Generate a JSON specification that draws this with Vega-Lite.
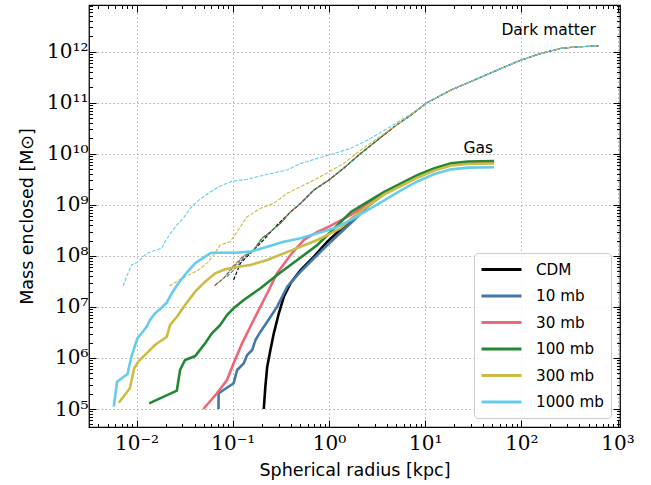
{
  "$schema": "https://vega.github.io/schema/vega-lite/v6.json",
  "width": 531,
  "height": 422,
  "autosize": "none",
  "padding": {"left": 89, "top": 5, "right": 31, "bottom": 58},
  "background": "#ffffff",
  "config": {
    "view": {"stroke": "#000000", "strokeWidth": 1.25},
    "axis": {"domain": false, "tickColor": "#000000", "tickWidth": 1, "labelColor": "#000000", "titleColor": "#000000"}
  },
  "resolve": {"axis": {"x": "independent", "y": "independent"}},
  "datasets": {
    "curves": [
      {"s":"CDM","k":"dm","r":0.102,"m":3.37e7},{"s":"CDM","k":"dm","r":0.12,"m":7.16e7},{"s":"CDM","k":"dm","r":0.152,"m":1.12e8},{"s":"CDM","k":"dm","r":0.194,"m":1.77e8},{"s":"CDM","k":"dm","r":0.289,"m":4.03e8},{"s":"CDM","k":"dm","r":0.398,"m":7.24e8},{"s":"CDM","k":"dm","r":0.507,"m":1.07e9},{"s":"CDM","k":"dm","r":0.697,"m":1.95e9},{"s":"CDM","k":"dm","r":1.0,"m":3.07e9},{"s":"CDM","k":"dm","r":1.43,"m":5.27e9},{"s":"CDM","k":"dm","r":2.14,"m":1.02e10},{"s":"CDM","k":"dm","r":3.2,"m":1.86e10},{"s":"CDM","k":"dm","r":4.77,"m":3.4e10},{"s":"CDM","k":"dm","r":7.13,"m":5.75e10},{"s":"CDM","k":"dm","r":10.2,"m":9.75e10},{"s":"CDM","k":"dm","r":18.6,"m":1.78e11},{"s":"CDM","k":"dm","r":32.6,"m":2.79e11},{"s":"CDM","k":"dm","r":62,"m":4.73e11},{"s":"CDM","k":"dm","r":100,"m":6.89e11},{"s":"CDM","k":"dm","r":162,"m":9.31e11},{"s":"CDM","k":"dm","r":262,"m":1.17e12},{"s":"CDM","k":"dm","r":392,"m":1.25e12},{"s":"CDM","k":"dm","r":634,"m":1.29e12},

      {"s":"10 mb","k":"dm","r":0.087,"m":3.91e7},{"s":"10 mb","k":"dm","r":0.102,"m":5.28e7},{"s":"10 mb","k":"dm","r":0.13,"m":9.08e7},{"s":"10 mb","k":"dm","r":0.165,"m":1.3e8},{"s":"10 mb","k":"dm","r":0.202,"m":2.21e8},{"s":"10 mb","k":"dm","r":0.236,"m":2.77e8},{"s":"10 mb","k":"dm","r":0.313,"m":4.35e8},{"s":"10 mb","k":"dm","r":0.398,"m":7.24e8},{"s":"10 mb","k":"dm","r":0.507,"m":1.07e9},{"s":"10 mb","k":"dm","r":0.697,"m":1.95e9},{"s":"10 mb","k":"dm","r":1.0,"m":3.07e9},{"s":"10 mb","k":"dm","r":1.43,"m":5.27e9},{"s":"10 mb","k":"dm","r":2.14,"m":1.02e10},{"s":"10 mb","k":"dm","r":3.2,"m":1.86e10},{"s":"10 mb","k":"dm","r":4.77,"m":3.4e10},{"s":"10 mb","k":"dm","r":7.13,"m":5.75e10},{"s":"10 mb","k":"dm","r":10.2,"m":9.75e10},{"s":"10 mb","k":"dm","r":18.6,"m":1.78e11},{"s":"10 mb","k":"dm","r":32.6,"m":2.79e11},{"s":"10 mb","k":"dm","r":62,"m":4.73e11},{"s":"10 mb","k":"dm","r":100,"m":6.89e11},{"s":"10 mb","k":"dm","r":162,"m":9.31e11},{"s":"10 mb","k":"dm","r":262,"m":1.17e12},{"s":"10 mb","k":"dm","r":392,"m":1.25e12},{"s":"10 mb","k":"dm","r":634,"m":1.29e12},

      {"s":"30 mb","k":"dm","r":0.064,"m":2.55e7},{"s":"30 mb","k":"dm","r":0.081,"m":3.7e7},{"s":"30 mb","k":"dm","r":0.1,"m":6.3e7},{"s":"30 mb","k":"dm","r":0.128,"m":9.9e7},{"s":"30 mb","k":"dm","r":0.165,"m":1.33e8},{"s":"30 mb","k":"dm","r":0.2,"m":2.25e8},{"s":"30 mb","k":"dm","r":0.236,"m":2.8e8},{"s":"30 mb","k":"dm","r":0.313,"m":4.4e8},{"s":"30 mb","k":"dm","r":0.398,"m":7.3e8},{"s":"30 mb","k":"dm","r":0.507,"m":1.07e9},{"s":"30 mb","k":"dm","r":0.697,"m":1.95e9},{"s":"30 mb","k":"dm","r":1.0,"m":3.07e9},{"s":"30 mb","k":"dm","r":1.43,"m":5.27e9},{"s":"30 mb","k":"dm","r":2.14,"m":1.02e10},{"s":"30 mb","k":"dm","r":3.2,"m":1.86e10},{"s":"30 mb","k":"dm","r":4.77,"m":3.4e10},{"s":"30 mb","k":"dm","r":7.13,"m":5.75e10},{"s":"30 mb","k":"dm","r":10.2,"m":9.75e10},{"s":"30 mb","k":"dm","r":18.6,"m":1.78e11},{"s":"30 mb","k":"dm","r":32.6,"m":2.79e11},{"s":"30 mb","k":"dm","r":62,"m":4.73e11},{"s":"30 mb","k":"dm","r":100,"m":6.89e11},{"s":"30 mb","k":"dm","r":162,"m":9.31e11},{"s":"30 mb","k":"dm","r":262,"m":1.17e12},{"s":"30 mb","k":"dm","r":392,"m":1.25e12},{"s":"30 mb","k":"dm","r":634,"m":1.29e12},

      {"s":"100 mb","k":"dm","r":0.0657,"m":2.69e7},{"s":"100 mb","k":"dm","r":0.0802,"m":3.64e7},{"s":"100 mb","k":"dm","r":0.102,"m":6.14e7},{"s":"100 mb","k":"dm","r":0.13,"m":9.64e7},{"s":"100 mb","k":"dm","r":0.165,"m":1.3e8},{"s":"100 mb","k":"dm","r":0.202,"m":2.21e8},{"s":"100 mb","k":"dm","r":0.236,"m":2.77e8},{"s":"100 mb","k":"dm","r":0.313,"m":4.35e8},{"s":"100 mb","k":"dm","r":0.398,"m":7.24e8},{"s":"100 mb","k":"dm","r":0.507,"m":1.07e9},{"s":"100 mb","k":"dm","r":0.697,"m":1.95e9},{"s":"100 mb","k":"dm","r":1.0,"m":3.07e9},{"s":"100 mb","k":"dm","r":1.43,"m":5.27e9},{"s":"100 mb","k":"dm","r":2.14,"m":1.02e10},{"s":"100 mb","k":"dm","r":3.2,"m":1.86e10},{"s":"100 mb","k":"dm","r":4.77,"m":3.4e10},{"s":"100 mb","k":"dm","r":7.13,"m":5.75e10},{"s":"100 mb","k":"dm","r":10.2,"m":9.75e10},{"s":"100 mb","k":"dm","r":18.6,"m":1.78e11},{"s":"100 mb","k":"dm","r":32.6,"m":2.79e11},{"s":"100 mb","k":"dm","r":62,"m":4.73e11},{"s":"100 mb","k":"dm","r":100,"m":6.89e11},{"s":"100 mb","k":"dm","r":162,"m":9.31e11},{"s":"100 mb","k":"dm","r":262,"m":1.17e12},{"s":"100 mb","k":"dm","r":392,"m":1.25e12},{"s":"100 mb","k":"dm","r":634,"m":1.29e12},

      {"s":"300 mb","k":"dm","r":0.0219,"m":2.57e7},{"s":"300 mb","k":"dm","r":0.0295,"m":3.64e7},{"s":"300 mb","k":"dm","r":0.044,"m":5.28e7},{"s":"300 mb","k":"dm","r":0.0559,"m":7.69e7},{"s":"300 mb","k":"dm","r":0.063,"m":1.04e8},{"s":"300 mb","k":"dm","r":0.0741,"m":1.63e8},{"s":"300 mb","k":"dm","r":0.0942,"m":1.9e8},{"s":"300 mb","k":"dm","r":0.111,"m":2.98e8},{"s":"300 mb","k":"dm","r":0.141,"m":5.86e8},{"s":"300 mb","k":"dm","r":0.194,"m":8.55e8},{"s":"300 mb","k":"dm","r":0.267,"m":1.07e9},{"s":"300 mb","k":"dm","r":0.368,"m":1.68e9},{"s":"300 mb","k":"dm","r":0.507,"m":2.26e9},{"s":"300 mb","k":"dm","r":0.757,"m":3.31e9},{"s":"300 mb","k":"dm","r":1.0,"m":4.46e9},{"s":"300 mb","k":"dm","r":1.43,"m":6.52e9},{"s":"300 mb","k":"dm","r":2.14,"m":1.19e10},{"s":"300 mb","k":"dm","r":3.2,"m":2.01e10},{"s":"300 mb","k":"dm","r":4.77,"m":3.45e10},{"s":"300 mb","k":"dm","r":7.13,"m":5.75e10},{"s":"300 mb","k":"dm","r":10.2,"m":9.75e10},{"s":"300 mb","k":"dm","r":18.6,"m":1.78e11},{"s":"300 mb","k":"dm","r":32.6,"m":2.79e11},{"s":"300 mb","k":"dm","r":62,"m":4.73e11},{"s":"300 mb","k":"dm","r":100,"m":6.89e11},{"s":"300 mb","k":"dm","r":162,"m":9.31e11},{"s":"300 mb","k":"dm","r":262,"m":1.17e12},{"s":"300 mb","k":"dm","r":392,"m":1.25e12},{"s":"300 mb","k":"dm","r":634,"m":1.29e12},

      {"s":"1000 mb","k":"dm","r":0.00724,"m":2.57e7},{"s":"1000 mb","k":"dm","r":0.00787,"m":3.91e7},{"s":"1000 mb","k":"dm","r":0.00887,"m":6.62e7},{"s":"1000 mb","k":"dm","r":0.01,"m":7.35e7},{"s":"1000 mb","k":"dm","r":0.0113,"m":8.98e7},{"s":"1000 mb","k":"dm","r":0.0127,"m":1.12e8},{"s":"1000 mb","k":"dm","r":0.0182,"m":1.41e8},{"s":"1000 mb","k":"dm","r":0.0197,"m":1.9e8},{"s":"1000 mb","k":"dm","r":0.0232,"m":2.98e8},{"s":"1000 mb","k":"dm","r":0.0262,"m":4.03e8},{"s":"1000 mb","k":"dm","r":0.0306,"m":5.45e8},{"s":"1000 mb","k":"dm","r":0.036,"m":8.55e8},{"s":"1000 mb","k":"dm","r":0.0423,"m":1.15e9},{"s":"1000 mb","k":"dm","r":0.0495,"m":1.45e9},{"s":"1000 mb","k":"dm","r":0.0607,"m":1.87e9},{"s":"1000 mb","k":"dm","r":0.0741,"m":2.34e9},{"s":"1000 mb","k":"dm","r":0.1,"m":2.93e9},{"s":"1000 mb","k":"dm","r":0.141,"m":3.16e9},{"s":"1000 mb","k":"dm","r":0.228,"m":3.96e9},{"s":"1000 mb","k":"dm","r":0.368,"m":4.82e9},{"s":"1000 mb","k":"dm","r":0.507,"m":6.46e9},{"s":"1000 mb","k":"dm","r":1.0,"m":9.48e9},{"s":"1000 mb","k":"dm","r":1.69,"m":1.28e10},{"s":"1000 mb","k":"dm","r":2.52,"m":1.86e10},{"s":"1000 mb","k":"dm","r":4.07,"m":3.16e10},{"s":"1000 mb","k":"dm","r":7.13,"m":6.03e10},{"s":"1000 mb","k":"dm","r":10.2,"m":9.75e10},{"s":"1000 mb","k":"dm","r":18.6,"m":1.78e11},{"s":"1000 mb","k":"dm","r":32.6,"m":2.79e11},{"s":"1000 mb","k":"dm","r":62,"m":4.73e11},{"s":"1000 mb","k":"dm","r":100,"m":6.89e11},{"s":"1000 mb","k":"dm","r":162,"m":9.31e11},{"s":"1000 mb","k":"dm","r":262,"m":1.17e12},{"s":"1000 mb","k":"dm","r":392,"m":1.25e12},{"s":"1000 mb","k":"dm","r":634,"m":1.29e12},

      {"s":"CDM","k":"gas","r":0.21,"m":1e5},{"s":"CDM","k":"gas","r":0.218,"m":2.74e5},{"s":"CDM","k":"gas","r":0.228,"m":6.74e5},{"s":"CDM","k":"gas","r":0.246,"m":1.43e6},{"s":"CDM","k":"gas","r":0.267,"m":3.04e6},{"s":"CDM","k":"gas","r":0.301,"m":7.5e6},{"s":"CDM","k":"gas","r":0.339,"m":1.58e7},{"s":"CDM","k":"gas","r":0.398,"m":2.9e7},{"s":"CDM","k":"gas","r":0.507,"m":5.28e7},{"s":"CDM","k":"gas","r":0.697,"m":9.64e7},{"s":"CDM","k":"gas","r":0.962,"m":1.9e8},{"s":"CDM","k":"gas","r":1.69,"m":5.05e8},{"s":"CDM","k":"gas","r":2.52,"m":9.93e8},{"s":"CDM","k":"gas","r":3.75,"m":1.67e9},{"s":"CDM","k":"gas","r":5.6,"m":2.51e9},{"s":"CDM","k":"gas","r":8.37,"m":3.67e9},{"s":"CDM","k":"gas","r":12.5,"m":5.04e9},{"s":"CDM","k":"gas","r":18.6,"m":6.31e9},{"s":"CDM","k":"gas","r":27.8,"m":6.75e9},{"s":"CDM","k":"gas","r":52,"m":6.9e9},

      {"s":"10 mb","k":"gas","r":0.0711,"m":1e5},{"s":"10 mb","k":"gas","r":0.0711,"m":2.03e5},{"s":"10 mb","k":"gas","r":0.0802,"m":2.36e5},{"s":"10 mb","k":"gas","r":0.102,"m":3.19e5},{"s":"10 mb","k":"gas","r":0.111,"m":5.81e5},{"s":"10 mb","k":"gas","r":0.13,"m":7.85e5},{"s":"10 mb","k":"gas","r":0.141,"m":1.14e6},{"s":"10 mb","k":"gas","r":0.159,"m":1.43e6},{"s":"10 mb","k":"gas","r":0.172,"m":2.25e6},{"s":"10 mb","k":"gas","r":0.194,"m":3.27e6},{"s":"10 mb","k":"gas","r":0.228,"m":5.13e6},{"s":"10 mb","k":"gas","r":0.289,"m":1.01e7},{"s":"10 mb","k":"gas","r":0.368,"m":2.49e7},{"s":"10 mb","k":"gas","r":0.507,"m":4.9e7},{"s":"10 mb","k":"gas","r":0.697,"m":8.98e7},{"s":"10 mb","k":"gas","r":0.962,"m":1.63e8},{"s":"10 mb","k":"gas","r":1.69,"m":4.41e8},{"s":"10 mb","k":"gas","r":2.52,"m":9.27e8},{"s":"10 mb","k":"gas","r":3.75,"m":1.63e9},{"s":"10 mb","k":"gas","r":5.6,"m":2.45e9},{"s":"10 mb","k":"gas","r":8.37,"m":3.59e9},{"s":"10 mb","k":"gas","r":12.5,"m":4.92e9},{"s":"10 mb","k":"gas","r":18.6,"m":6.17e9},{"s":"10 mb","k":"gas","r":27.8,"m":6.6e9},{"s":"10 mb","k":"gas","r":52,"m":6.75e9},

      {"s":"30 mb","k":"gas","r":0.0495,"m":1e5},{"s":"30 mb","k":"gas","r":0.0684,"m":2.03e5},{"s":"30 mb","k":"gas","r":0.087,"m":3.7e5},{"s":"30 mb","k":"gas","r":0.102,"m":7.85e5},{"s":"30 mb","k":"gas","r":0.125,"m":1.94e6},{"s":"30 mb","k":"gas","r":0.152,"m":4.09e6},{"s":"30 mb","k":"gas","r":0.186,"m":8.71e6},{"s":"30 mb","k":"gas","r":0.228,"m":1.85e7},{"s":"30 mb","k":"gas","r":0.289,"m":4.56e7},{"s":"30 mb","k":"gas","r":0.398,"m":1.04e8},{"s":"30 mb","k":"gas","r":0.548,"m":2.05e8},{"s":"30 mb","k":"gas","r":0.757,"m":2.95e8},{"s":"30 mb","k":"gas","r":1.0,"m":3.75e8},{"s":"30 mb","k":"gas","r":1.69,"m":6.32e8},{"s":"30 mb","k":"gas","r":2.52,"m":1.04e9},{"s":"30 mb","k":"gas","r":3.75,"m":1.71e9},{"s":"30 mb","k":"gas","r":5.6,"m":2.51e9},{"s":"30 mb","k":"gas","r":8.37,"m":3.67e9},{"s":"30 mb","k":"gas","r":12.5,"m":5.04e9},{"s":"30 mb","k":"gas","r":18.6,"m":6.31e9},{"s":"30 mb","k":"gas","r":27.8,"m":6.75e9},{"s":"30 mb","k":"gas","r":52,"m":6.9e9},

      {"s":"100 mb","k":"gas","r":0.0135,"m":1.29e5},{"s":"100 mb","k":"gas","r":0.0262,"m":2.28e5},{"s":"100 mb","k":"gas","r":0.0283,"m":5.81e5},{"s":"100 mb","k":"gas","r":0.0319,"m":9.12e5},{"s":"100 mb","k":"gas","r":0.0406,"m":1.09e6},{"s":"100 mb","k":"gas","r":0.0516,"m":1.94e6},{"s":"100 mb","k":"gas","r":0.0607,"m":3.04e6},{"s":"100 mb","k":"gas","r":0.0741,"m":4.43e6},{"s":"100 mb","k":"gas","r":0.087,"m":6.95e6},{"s":"100 mb","k":"gas","r":0.102,"m":9.4e6},{"s":"100 mb","k":"gas","r":0.13,"m":1.37e7},{"s":"100 mb","k":"gas","r":0.194,"m":2.32e7},{"s":"100 mb","k":"gas","r":0.289,"m":4.22e7},{"s":"100 mb","k":"gas","r":0.468,"m":8.3e7},{"s":"100 mb","k":"gas","r":0.757,"m":1.63e8},{"s":"100 mb","k":"gas","r":1.69,"m":7.24e8},{"s":"100 mb","k":"gas","r":2.52,"m":1.14e9},{"s":"100 mb","k":"gas","r":3.75,"m":1.79e9},{"s":"100 mb","k":"gas","r":5.6,"m":2.64e9},{"s":"100 mb","k":"gas","r":8.37,"m":3.85e9},{"s":"100 mb","k":"gas","r":12.5,"m":5.2e9},{"s":"100 mb","k":"gas","r":18.6,"m":6.52e9},{"s":"100 mb","k":"gas","r":27.8,"m":7.06e9},{"s":"100 mb","k":"gas","r":52,"m":7.23e9},

      {"s":"300 mb","k":"gas","r":0.00653,"m":1.33e5},{"s":"300 mb","k":"gas","r":0.00851,"m":2.55e5},{"s":"300 mb","k":"gas","r":0.00944,"m":6.27e5},{"s":"300 mb","k":"gas","r":0.0104,"m":8.45e5},{"s":"300 mb","k":"gas","r":0.0127,"m":1.23e6},{"s":"300 mb","k":"gas","r":0.0155,"m":1.79e6},{"s":"300 mb","k":"gas","r":0.0206,"m":2.61e6},{"s":"300 mb","k":"gas","r":0.0223,"m":4.43e6},{"s":"300 mb","k":"gas","r":0.0262,"m":6.43e6},{"s":"300 mb","k":"gas","r":0.0319,"m":1.09e7},{"s":"300 mb","k":"gas","r":0.0406,"m":1.99e7},{"s":"300 mb","k":"gas","r":0.0516,"m":3.12e7},{"s":"300 mb","k":"gas","r":0.0657,"m":4.56e7},{"s":"300 mb","k":"gas","r":0.0835,"m":5.46e7},{"s":"300 mb","k":"gas","r":0.106,"m":5.97e7},{"s":"300 mb","k":"gas","r":0.152,"m":6.62e7},{"s":"300 mb","k":"gas","r":0.228,"m":8.3e7},{"s":"300 mb","k":"gas","r":0.339,"m":1.12e8},{"s":"300 mb","k":"gas","r":0.507,"m":1.51e8},{"s":"300 mb","k":"gas","r":0.757,"m":2.05e8},{"s":"300 mb","k":"gas","r":1.32,"m":3.47e8},{"s":"300 mb","k":"gas","r":1.69,"m":5.28e8},{"s":"300 mb","k":"gas","r":2.52,"m":9.48e8},{"s":"300 mb","k":"gas","r":3.75,"m":1.6e9},{"s":"300 mb","k":"gas","r":5.6,"m":2.34e9},{"s":"300 mb","k":"gas","r":8.37,"m":3.44e9},{"s":"300 mb","k":"gas","r":12.5,"m":4.71e9},{"s":"300 mb","k":"gas","r":18.6,"m":5.9e9},{"s":"300 mb","k":"gas","r":27.8,"m":6.31e9},{"s":"300 mb","k":"gas","r":52,"m":6.46e9},

      {"s":"1000 mb","k":"gas","r":0.00579,"m":1.11e5},{"s":"1000 mb","k":"gas","r":0.00627,"m":3.43e5},{"s":"1000 mb","k":"gas","r":0.00805,"m":4.85e5},{"s":"1000 mb","k":"gas","r":0.00851,"m":7.85e5},{"s":"1000 mb","k":"gas","r":0.00887,"m":1.09e6},{"s":"1000 mb","k":"gas","r":0.00944,"m":1.55e6},{"s":"1000 mb","k":"gas","r":0.0102,"m":2.43e6},{"s":"1000 mb","k":"gas","r":0.0113,"m":3.04e6},{"s":"1000 mb","k":"gas","r":0.0127,"m":4.09e6},{"s":"1000 mb","k":"gas","r":0.0138,"m":5.55e6},{"s":"1000 mb","k":"gas","r":0.0155,"m":7.5e6},{"s":"1000 mb","k":"gas","r":0.0175,"m":8.98e6},{"s":"1000 mb","k":"gas","r":0.0206,"m":1.21e7},{"s":"1000 mb","k":"gas","r":0.0232,"m":1.85e7},{"s":"1000 mb","k":"gas","r":0.0272,"m":2.9e7},{"s":"1000 mb","k":"gas","r":0.0332,"m":4.68e7},{"s":"1000 mb","k":"gas","r":0.0406,"m":7.16e7},{"s":"1000 mb","k":"gas","r":0.0516,"m":9.64e7},{"s":"1000 mb","k":"gas","r":0.0597,"m":1.15e8},{"s":"1000 mb","k":"gas","r":0.106,"m":1.15e8},{"s":"1000 mb","k":"gas","r":0.152,"m":1.21e8},{"s":"1000 mb","k":"gas","r":0.228,"m":1.51e8},{"s":"1000 mb","k":"gas","r":0.339,"m":1.9e8},{"s":"1000 mb","k":"gas","r":0.507,"m":2.21e8},{"s":"1000 mb","k":"gas","r":0.757,"m":2.77e8},{"s":"1000 mb","k":"gas","r":1.13,"m":3.47e8},{"s":"1000 mb","k":"gas","r":1.69,"m":5.05e8},{"s":"1000 mb","k":"gas","r":2.52,"m":7.9e8},{"s":"1000 mb","k":"gas","r":3.75,"m":1.22e9},{"s":"1000 mb","k":"gas","r":5.6,"m":1.92e9},{"s":"1000 mb","k":"gas","r":8.37,"m":2.9e9},{"s":"1000 mb","k":"gas","r":12.5,"m":4.0e9},{"s":"1000 mb","k":"gas","r":18.6,"m":4.95e9},{"s":"1000 mb","k":"gas","r":27.8,"m":5.35e9},{"s":"1000 mb","k":"gas","r":52,"m":5.44e9}
    ],
    "notes": [
      {"label": "Dark matter", "r": 192, "m": 2.13e12},
      {"label": "Gas", "r": 35.7, "m": 1.05e10}
    ]
  },
  "layer": [
    {
      "data": {"name": "curves"},
      "transform": [{"filter": "datum.k == 'dm'"}],
      "mark": {"type": "line", "strokeWidth": 1.1, "strokeDash": [3.7, 1.6], "clip": true},
      "encoding": {
        "x": {
          "field": "r", "type": "quantitative",
          "scale": {"type": "log", "domain": [0.0032, 1060], "nice": false},
          "axis": {
            "orient": "bottom",
            "values": [0.01, 0.1, 1, 10, 100, 1000],
            "labelExpr": "'10' + (round(log(datum.value)/LN10) < 0 ? '⁻' : '') + (abs(round(log(datum.value)/LN10)) >= 10 ? '¹' : '') + ['⁰','¹','²','³','⁴','⁵','⁶','⁷','⁸','⁹'][abs(round(log(datum.value)/LN10)) % 10]",
            "labelFont": "DejaVu Serif", "labelFontSize": 20, "labelOverlap": false, "labelFlush": false,
            "labelAlign": "center", "labelBaseline": "top", "labelPadding": 13,
            "tickSize": -7,
            "grid": true, "gridColor": "#b0b0b0", "gridDash": [1.5, 2.5], "gridWidth": 1,
            "title": "Spherical radius [kpc]", "titleFont": "DejaVu Sans", "titleFontSize": 17.5, "titleFontWeight": "normal", "titlePadding": 8
          }
        },
        "y": {
          "field": "m", "type": "quantitative",
          "scale": {"type": "log", "domain": [44400, 8.22e12], "nice": false},
          "axis": {
            "orient": "left",
            "values": [1e5, 1e6, 1e7, 1e8, 1e9, 1e10, 1e11, 1e12],
            "labelExpr": "'10' + (round(log(datum.value)/LN10) < 0 ? '⁻' : '') + (abs(round(log(datum.value)/LN10)) >= 10 ? '¹' : '') + ['⁰','¹','²','³','⁴','⁵','⁶','⁷','⁸','⁹'][abs(round(log(datum.value)/LN10)) % 10]",
            "labelFont": "DejaVu Serif", "labelFontSize": 20, "labelOverlap": false, "labelFlush": false,
            "labelAlign": "right", "labelBaseline": "middle", "labelPadding": 8,
            "tickSize": -7,
            "grid": true, "gridColor": "#b0b0b0", "gridDash": [1.5, 2.5], "gridWidth": 1,
            "title": "Mass enclosed [M⊙]", "titleFont": "DejaVu Sans", "titleFontSize": 17.5, "titleFontWeight": "normal", "titlePadding": 10
          }
        },
        "color": {
          "field": "s", "type": "nominal",
          "scale": {"domain": ["CDM", "10 mb", "30 mb", "100 mb", "300 mb", "1000 mb"], "range": ["#000000", "#4477AA", "#EE6677", "#228833", "#CCBB44", "#66CCEE"]},
          "legend": {
            "title": null, "orient": "bottom-right", "offset": 9, "padding": 7,
            "strokeColor": "#cccccc", "fillColor": "rgba(255,255,255,0.85)", "cornerRadius": 4,
            "symbolType": "M-2.5,0H2.5", "symbolSize": 256, "symbolStrokeWidth": 3, "symbolDash": [1, 0], "symbolOffset": 11,
            "labelFont": "DejaVu Sans", "labelFontSize": 15.2, "labelColor": "#000000", "labelOffset": 25, "rowPadding": 8.5
          }
        }
      }
    },
    {
      "data": {"name": "curves"},
      "transform": [{"filter": "datum.k == 'gas'"}],
      "mark": {"type": "line", "strokeWidth": 2.6, "clip": true},
      "encoding": {
        "x": {"field": "r", "type": "quantitative",
          "axis": {"orient": "bottom", "labels": false, "title": null, "grid": false, "domain": false, "tickSize": -3.5,
            "values": [0.004,0.005,0.006,0.007,0.008,0.009,0.02,0.03,0.04,0.05,0.06,0.07,0.08,0.09,0.2,0.3,0.4,0.5,0.6,0.7,0.8,0.9,2,3,4,5,6,7,8,9,20,30,40,50,60,70,80,90,200,300,400,500,600,700,800,900]}},
        "y": {"field": "m", "type": "quantitative",
          "axis": {"orient": "left", "labels": false, "title": null, "grid": false, "domain": false, "tickSize": -3.5,
            "values": [5e4,6e4,7e4,8e4,9e4,2e5,3e5,4e5,5e5,6e5,7e5,8e5,9e5,2e6,3e6,4e6,5e6,6e6,7e6,8e6,9e6,2e7,3e7,4e7,5e7,6e7,7e7,8e7,9e7,2e8,3e8,4e8,5e8,6e8,7e8,8e8,9e8,2e9,3e9,4e9,5e9,6e9,7e9,8e9,9e9,2e10,3e10,4e10,5e10,6e10,7e10,8e10,9e10,2e11,3e11,4e11,5e11,6e11,7e11,8e11,9e11,2e12,3e12,4e12,5e12,6e12,7e12,8e12]}},
        "color": {"field": "s", "type": "nominal"}
      }
    },
    {
      "data": {"name": "notes"},
      "transform": [{"filter": "datum.label == 'Dark matter'"}],
      "mark": {"type": "text", "font": "DejaVu Sans", "fontSize": 15.5, "align": "center", "baseline": "alphabetic", "color": "#000000"},
      "encoding": {
        "text": {"field": "label"},
        "x": {"field": "r", "type": "quantitative",
          "axis": {"orient": "top", "labels": false, "title": null, "grid": false, "domain": false, "tickSize": -7,
            "values": [0.01, 0.1, 1, 10, 100, 1000]}},
        "y": {"field": "m", "type": "quantitative",
          "axis": {"orient": "right", "labels": false, "title": null, "grid": false, "domain": false, "tickSize": -7,
            "values": [1e5, 1e6, 1e7, 1e8, 1e9, 1e10, 1e11, 1e12]}}
      }
    },
    {
      "data": {"name": "notes"},
      "transform": [{"filter": "datum.label == 'Gas'"}],
      "mark": {"type": "text", "font": "DejaVu Sans", "fontSize": 15.5, "align": "center", "baseline": "alphabetic", "color": "#000000"},
      "encoding": {
        "text": {"field": "label"},
        "x": {"field": "r", "type": "quantitative",
          "axis": {"orient": "top", "labels": false, "title": null, "grid": false, "domain": false, "tickSize": -3.5,
            "values": [0.004,0.005,0.006,0.007,0.008,0.009,0.02,0.03,0.04,0.05,0.06,0.07,0.08,0.09,0.2,0.3,0.4,0.5,0.6,0.7,0.8,0.9,2,3,4,5,6,7,8,9,20,30,40,50,60,70,80,90,200,300,400,500,600,700,800,900]}},
        "y": {"field": "m", "type": "quantitative",
          "axis": {"orient": "right", "labels": false, "title": null, "grid": false, "domain": false, "tickSize": -3.5,
            "values": [5e4,6e4,7e4,8e4,9e4,2e5,3e5,4e5,5e5,6e5,7e5,8e5,9e5,2e6,3e6,4e6,5e6,6e6,7e6,8e6,9e6,2e7,3e7,4e7,5e7,6e7,7e7,8e7,9e7,2e8,3e8,4e8,5e8,6e8,7e8,8e8,9e8,2e9,3e9,4e9,5e9,6e9,7e9,8e9,9e9,2e10,3e10,4e10,5e10,6e10,7e10,8e10,9e10,2e11,3e11,4e11,5e11,6e11,7e11,8e11,9e11,2e12,3e12,4e12,5e12,6e12,7e12,8e12]}}
      }
    }
  ]
}
